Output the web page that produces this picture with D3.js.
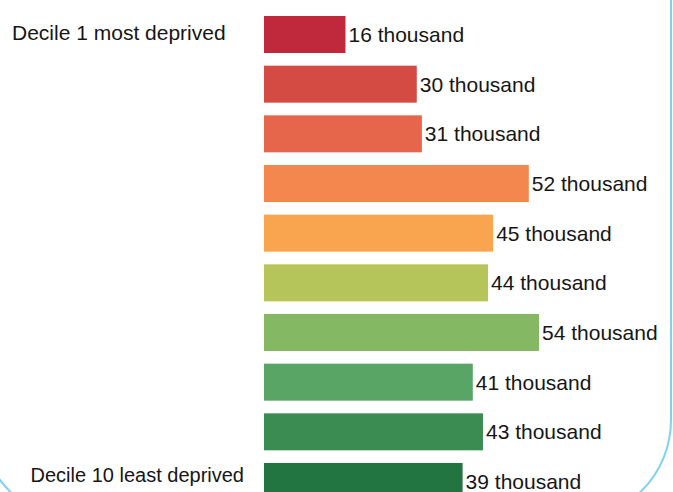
<!DOCTYPE html>
<html>
<head>
<meta charset="utf-8">
<script src="https://cdn.jsdelivr.net/npm/d3@7"></script>
<style>
  html, body { margin: 0; padding: 0; background: #ffffff; }
  svg { display: block; }
  text { font-family: "Liberation Sans", Arial, sans-serif; fill: #161616; }
</style>
</head>
<body>
<svg id="chart" width="673" height="492"></svg>
<script>
// Deprivation deciles, most deprived first
const deciles = ["1", "2", "3", "4", "5", "6", "7", "8", "9", "10"];
// Values in thousands
const values = [16, 30, 31, 52, 45, 44, 54, 41, 43, 39];
const valueLabels = values.map(v => v + " thousand");
const barColors = ["#c0293c", "#d44b44", "#e5664a", "#f4874e", "#f9a54f",
                   "#b5c55a", "#84b862", "#58a566", "#3a8c52", "#227440"];
const endLabels = ["Decile 1 most deprived", "Decile 10 least deprived"];

const svg = d3.select("#chart");
const fontSize = 21;

// Rounded panel outline
svg.append("rect")
  .attr("x", -20).attr("y", -100)
  .attr("width", 691).attr("height", 620)
  .attr("rx", 100).attr("ry", 100)
  .attr("fill", "none")
  .attr("stroke", "#7fd2f2")
  .attr("stroke-width", 2);

const x = d3.scaleLinear().domain([0, 54]).range([264, 539]);
const y = d3.scaleBand().domain(deciles).range([16, 500]).paddingInner(0.255).paddingOuter(0);

const rows = svg.append("g").selectAll("g")
  .data(deciles)
  .join("g");

rows.append("rect")
  .attr("x", x(0))
  .attr("y", d => y(d))
  .attr("width", (d, i) => x(values[i]) - x(0))
  .attr("height", y.bandwidth())
  .attr("fill", (d, i) => barColors[i]);

rows.append("text")
  .attr("x", (d, i) => x(values[i]) + 3)
  .attr("y", d => y(d) + y.bandwidth() / 2)
  .attr("dy", "0.36em")
  .attr("font-size", fontSize)
  .text((d, i) => valueLabels[i]);

// Labels for the two ends of the scale
svg.append("text")
  .attr("x", 12)
  .attr("y", y(deciles[0]) + y.bandwidth() / 2 - 2)
  .attr("dy", "0.36em")
  .attr("font-size", fontSize)
  .text(endLabels[0]);

svg.append("text")
  .attr("x", 244)
  .attr("y", y(deciles[9]) + 12)
  .attr("dy", "0.36em")
  .attr("text-anchor", "end")
  .attr("font-size", 20)
  .text(endLabels[1]);
</script>
</body>
</html>
